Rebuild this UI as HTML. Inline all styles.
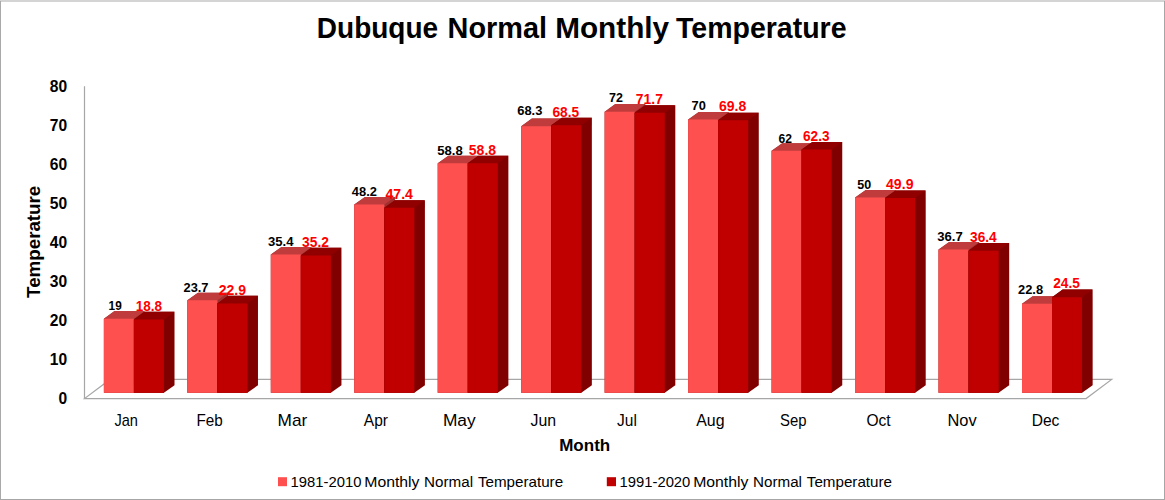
<!DOCTYPE html>
<html><head><meta charset="utf-8"><style>html,body{margin:0;padding:0;background:#fff;width:1165px;height:500px;overflow:hidden}</style></head>
<body><svg width="1165" height="500" viewBox="0 0 1165 500" style="display:block;font-family:'Liberation Sans',sans-serif">
<rect x="0" y="0" width="1165" height="500" fill="#fff"/>
<polygon points="84.50,398.60 1086.10,398.60 1111.70,379.40 110.10,379.40" fill="none" stroke="#A6A6A6" stroke-width="1.2"/>
<line x1="84.5" y1="86.2" x2="84.5" y2="398.6" stroke="#A6A6A6" stroke-width="1.2"/>
<polygon points="103.91,318.65 114.51,311.05 144.51,311.05 144.51,385.24 133.91,392.84 103.91,392.84" fill="#A03030"/>
<polygon points="103.91,318.65 114.51,311.05 144.51,311.05 133.91,318.65 133.91,392.84 103.91,392.84" fill="#C03C3C"/>
<polygon points="103.91,318.65 133.91,318.65 133.91,392.84 103.91,392.84" fill="#FF5050"/>
<polygon points="133.91,319.43 144.51,311.83 174.51,311.83 174.51,385.24 163.91,392.84 133.91,392.84" fill="#800000"/>
<polygon points="133.91,319.43 144.51,311.83 174.51,311.83 163.91,319.43 163.91,392.84 133.91,392.84" fill="#900000"/>
<polygon points="133.91,319.43 163.91,319.43 163.91,392.84 133.91,392.84" fill="#C00000"/>
<polygon points="187.38,300.29 197.98,292.69 227.98,292.69 227.98,385.24 217.38,392.84 187.38,392.84" fill="#A03030"/>
<polygon points="187.38,300.29 197.98,292.69 227.98,292.69 217.38,300.29 217.38,392.84 187.38,392.84" fill="#C03C3C"/>
<polygon points="187.38,300.29 217.38,300.29 217.38,392.84 187.38,392.84" fill="#FF5050"/>
<polygon points="217.38,303.42 227.98,295.82 257.98,295.82 257.98,385.24 247.38,392.84 217.38,392.84" fill="#800000"/>
<polygon points="217.38,303.42 227.98,295.82 257.98,295.82 247.38,303.42 247.38,392.84 217.38,392.84" fill="#900000"/>
<polygon points="217.38,303.42 247.38,303.42 247.38,392.84 217.38,392.84" fill="#C00000"/>
<polygon points="270.85,254.60 281.45,247.00 311.45,247.00 311.45,385.24 300.85,392.84 270.85,392.84" fill="#A03030"/>
<polygon points="270.85,254.60 281.45,247.00 311.45,247.00 300.85,254.60 300.85,392.84 270.85,392.84" fill="#C03C3C"/>
<polygon points="270.85,254.60 300.85,254.60 300.85,392.84 270.85,392.84" fill="#FF5050"/>
<polygon points="300.85,255.38 311.45,247.78 341.45,247.78 341.45,385.24 330.85,392.84 300.85,392.84" fill="#800000"/>
<polygon points="300.85,255.38 311.45,247.78 341.45,247.78 330.85,255.38 330.85,392.84 300.85,392.84" fill="#900000"/>
<polygon points="300.85,255.38 330.85,255.38 330.85,392.84 300.85,392.84" fill="#C00000"/>
<polygon points="354.31,204.62 364.91,197.02 394.91,197.02 394.91,385.24 384.31,392.84 354.31,392.84" fill="#A03030"/>
<polygon points="354.31,204.62 364.91,197.02 394.91,197.02 384.31,204.62 384.31,392.84 354.31,392.84" fill="#C03C3C"/>
<polygon points="354.31,204.62 384.31,204.62 384.31,392.84 354.31,392.84" fill="#FF5050"/>
<polygon points="384.31,207.74 394.91,200.14 424.91,200.14 424.91,385.24 414.31,392.84 384.31,392.84" fill="#800000"/>
<polygon points="384.31,207.74 394.91,200.14 424.91,200.14 414.31,207.74 414.31,392.84 384.31,392.84" fill="#900000"/>
<polygon points="384.31,207.74 414.31,207.74 414.31,392.84 384.31,392.84" fill="#C00000"/>
<polygon points="437.78,163.23 448.38,155.63 478.38,155.63 478.38,385.24 467.78,392.84 437.78,392.84" fill="#A03030"/>
<polygon points="437.78,163.23 448.38,155.63 478.38,155.63 467.78,163.23 467.78,392.84 437.78,392.84" fill="#C03C3C"/>
<polygon points="437.78,163.23 467.78,163.23 467.78,392.84 437.78,392.84" fill="#FF5050"/>
<polygon points="467.78,163.23 478.38,155.63 508.38,155.63 508.38,385.24 497.78,392.84 467.78,392.84" fill="#800000"/>
<polygon points="467.78,163.23 478.38,155.63 508.38,155.63 497.78,163.23 497.78,392.84 467.78,392.84" fill="#900000"/>
<polygon points="467.78,163.23 497.78,163.23 497.78,392.84 467.78,392.84" fill="#C00000"/>
<polygon points="521.25,126.13 531.85,118.53 561.85,118.53 561.85,385.24 551.25,392.84 521.25,392.84" fill="#A03030"/>
<polygon points="521.25,126.13 531.85,118.53 561.85,118.53 551.25,126.13 551.25,392.84 521.25,392.84" fill="#C03C3C"/>
<polygon points="521.25,126.13 551.25,126.13 551.25,392.84 521.25,392.84" fill="#FF5050"/>
<polygon points="551.25,125.35 561.85,117.75 591.85,117.75 591.85,385.24 581.25,392.84 551.25,392.84" fill="#800000"/>
<polygon points="551.25,125.35 561.85,117.75 591.85,117.75 581.25,125.35 581.25,392.84 551.25,392.84" fill="#900000"/>
<polygon points="551.25,125.35 581.25,125.35 581.25,392.84 551.25,392.84" fill="#C00000"/>
<polygon points="604.71,111.68 615.31,104.08 645.31,104.08 645.31,385.24 634.71,392.84 604.71,392.84" fill="#A03030"/>
<polygon points="604.71,111.68 615.31,104.08 645.31,104.08 634.71,111.68 634.71,392.84 604.71,392.84" fill="#C03C3C"/>
<polygon points="604.71,111.68 634.71,111.68 634.71,392.84 604.71,392.84" fill="#FF5050"/>
<polygon points="634.71,112.85 645.31,105.25 675.31,105.25 675.31,385.24 664.71,392.84 634.71,392.84" fill="#800000"/>
<polygon points="634.71,112.85 645.31,105.25 675.31,105.25 664.71,112.85 664.71,392.84 634.71,392.84" fill="#900000"/>
<polygon points="634.71,112.85 664.71,112.85 664.71,392.84 634.71,392.84" fill="#C00000"/>
<polygon points="688.18,119.49 698.78,111.89 728.78,111.89 728.78,385.24 718.18,392.84 688.18,392.84" fill="#A03030"/>
<polygon points="688.18,119.49 698.78,111.89 728.78,111.89 718.18,119.49 718.18,392.84 688.18,392.84" fill="#C03C3C"/>
<polygon points="688.18,119.49 718.18,119.49 718.18,392.84 688.18,392.84" fill="#FF5050"/>
<polygon points="718.18,120.27 728.78,112.67 758.78,112.67 758.78,385.24 748.18,392.84 718.18,392.84" fill="#800000"/>
<polygon points="718.18,120.27 728.78,112.67 758.78,112.67 748.18,120.27 748.18,392.84 718.18,392.84" fill="#900000"/>
<polygon points="718.18,120.27 748.18,120.27 748.18,392.84 718.18,392.84" fill="#C00000"/>
<polygon points="771.65,150.73 782.25,143.13 812.25,143.13 812.25,385.24 801.65,392.84 771.65,392.84" fill="#A03030"/>
<polygon points="771.65,150.73 782.25,143.13 812.25,143.13 801.65,150.73 801.65,392.84 771.65,392.84" fill="#C03C3C"/>
<polygon points="771.65,150.73 801.65,150.73 801.65,392.84 771.65,392.84" fill="#FF5050"/>
<polygon points="801.65,149.56 812.25,141.96 842.25,141.96 842.25,385.24 831.65,392.84 801.65,392.84" fill="#800000"/>
<polygon points="801.65,149.56 812.25,141.96 842.25,141.96 831.65,149.56 831.65,392.84 801.65,392.84" fill="#900000"/>
<polygon points="801.65,149.56 831.65,149.56 831.65,392.84 801.65,392.84" fill="#C00000"/>
<polygon points="855.11,197.59 865.71,189.99 895.71,189.99 895.71,385.24 885.11,392.84 855.11,392.84" fill="#A03030"/>
<polygon points="855.11,197.59 865.71,189.99 895.71,189.99 885.11,197.59 885.11,392.84 855.11,392.84" fill="#C03C3C"/>
<polygon points="855.11,197.59 885.11,197.59 885.11,392.84 855.11,392.84" fill="#FF5050"/>
<polygon points="885.11,197.98 895.71,190.38 925.71,190.38 925.71,385.24 915.11,392.84 885.11,392.84" fill="#800000"/>
<polygon points="885.11,197.98 895.71,190.38 925.71,190.38 915.11,197.98 915.11,392.84 885.11,392.84" fill="#900000"/>
<polygon points="885.11,197.98 915.11,197.98 915.11,392.84 885.11,392.84" fill="#C00000"/>
<polygon points="938.58,249.53 949.18,241.93 979.18,241.93 979.18,385.24 968.58,392.84 938.58,392.84" fill="#A03030"/>
<polygon points="938.58,249.53 949.18,241.93 979.18,241.93 968.58,249.53 968.58,392.84 938.58,392.84" fill="#C03C3C"/>
<polygon points="938.58,249.53 968.58,249.53 968.58,392.84 938.58,392.84" fill="#FF5050"/>
<polygon points="968.58,250.70 979.18,243.10 1009.18,243.10 1009.18,385.24 998.58,392.84 968.58,392.84" fill="#800000"/>
<polygon points="968.58,250.70 979.18,243.10 1009.18,243.10 998.58,250.70 998.58,392.84 968.58,392.84" fill="#900000"/>
<polygon points="968.58,250.70 998.58,250.70 998.58,392.84 968.58,392.84" fill="#C00000"/>
<polygon points="1022.05,303.81 1032.65,296.21 1062.65,296.21 1062.65,385.24 1052.05,392.84 1022.05,392.84" fill="#A03030"/>
<polygon points="1022.05,303.81 1032.65,296.21 1062.65,296.21 1052.05,303.81 1052.05,392.84 1022.05,392.84" fill="#C03C3C"/>
<polygon points="1022.05,303.81 1052.05,303.81 1052.05,392.84 1022.05,392.84" fill="#FF5050"/>
<polygon points="1052.05,297.17 1062.65,289.57 1092.65,289.57 1092.65,385.24 1082.05,392.84 1052.05,392.84" fill="#800000"/>
<polygon points="1052.05,297.17 1062.65,289.57 1092.65,289.57 1082.05,297.17 1082.05,392.84 1052.05,392.84" fill="#900000"/>
<polygon points="1052.05,297.17 1082.05,297.17 1082.05,392.84 1052.05,392.84" fill="#C00000"/>
<rect x="278" y="477.2" width="9" height="9" fill="#FF5050"/>
<rect x="606.8" y="477.2" width="9.2" height="9" fill="#C00000"/>
<g font-family="'Liberation Sans', sans-serif">
<text transform="translate(316.83 38.00) scale(0.9653 1)" font-weight="bold" font-size="29.0" fill="#000">Dubuque</text>
<text transform="translate(447.60 38.00) scale(0.9953 1)" font-weight="bold" font-size="29.0" fill="#000">Normal</text>
<text transform="translate(555.17 38.00) scale(1.0253 1)" font-weight="bold" font-size="29.0" fill="#000">Monthly</text>
<text transform="translate(676.00 38.00) scale(0.9828 1)" font-weight="bold" font-size="29.0" fill="#000">Temperature</text>
<text transform="translate(559.18 450.75) scale(1.0196 1)" font-weight="bold" font-size="16.7" fill="#000">Month</text>
<text transform="translate(290.60 486.50) scale(1.0024 1)" font-weight="normal" font-size="14.8" fill="#000">1981-2010</text>
<text transform="translate(364.23 486.50) scale(1.0678 1)" font-weight="normal" font-size="14.8" fill="#000">Monthly</text>
<text transform="translate(424.07 486.50) scale(1.0281 1)" font-weight="normal" font-size="14.8" fill="#000">Normal</text>
<text transform="translate(477.90 486.50) scale(1.0261 1)" font-weight="normal" font-size="14.8" fill="#000">Temperature</text>
<text transform="translate(619.50 486.50) scale(1.0024 1)" font-weight="normal" font-size="14.8" fill="#000">1991-2020</text>
<text transform="translate(693.13 486.50) scale(1.0678 1)" font-weight="normal" font-size="14.8" fill="#000">Monthly</text>
<text transform="translate(752.97 486.50) scale(1.0281 1)" font-weight="normal" font-size="14.8" fill="#000">Normal</text>
<text transform="translate(806.80 486.50) scale(1.0261 1)" font-weight="normal" font-size="14.8" fill="#000">Temperature</text>
<text x="58.50" y="404.05" font-weight="bold" font-size="15.6">0</text>
<text x="49.83" y="365.00" font-weight="bold" font-size="15.6">10</text>
<text x="49.83" y="325.95" font-weight="bold" font-size="15.6">20</text>
<text x="49.83" y="286.90" font-weight="bold" font-size="15.6">30</text>
<text x="49.83" y="247.85" font-weight="bold" font-size="15.6">40</text>
<text x="49.83" y="208.80" font-weight="bold" font-size="15.6">50</text>
<text x="49.83" y="169.75" font-weight="bold" font-size="15.6">60</text>
<text x="49.83" y="130.70" font-weight="bold" font-size="15.6">70</text>
<text x="49.83" y="91.65" font-weight="bold" font-size="15.6">80</text>
<text transform="translate(114.40 426.40) scale(0.9117 1)" font-weight="normal" font-size="16" fill="#000">Jan</text>
<text transform="translate(196.55 426.40) scale(0.9523 1)" font-weight="normal" font-size="16" fill="#000">Feb</text>
<text transform="translate(277.62 426.40) scale(1.0798 1)" font-weight="normal" font-size="16" fill="#000">Mar</text>
<text transform="translate(363.80 426.40) scale(0.9699 1)" font-weight="normal" font-size="16" fill="#000">Apr</text>
<text transform="translate(442.92 426.40) scale(1.0846 1)" font-weight="normal" font-size="16" fill="#000">May</text>
<text transform="translate(530.60 426.40) scale(0.9920 1)" font-weight="normal" font-size="16" fill="#000">Jun</text>
<text transform="translate(617.00 426.40) scale(0.9699 1)" font-weight="normal" font-size="16" fill="#000">Jul</text>
<text transform="translate(696.20 426.40) scale(0.9938 1)" font-weight="normal" font-size="16" fill="#000">Aug</text>
<text transform="translate(780.00 426.40) scale(0.9310 1)" font-weight="normal" font-size="16" fill="#000">Sep</text>
<text transform="translate(866.50 426.40) scale(0.9707 1)" font-weight="normal" font-size="16" fill="#000">Oct</text>
<text transform="translate(947.47 426.40) scale(1.0272 1)" font-weight="normal" font-size="16" fill="#000">Nov</text>
<text transform="translate(1031.73 426.40) scale(0.9726 1)" font-weight="normal" font-size="16" fill="#000">Dec</text>
<text transform="translate(108.60 310.00) scale(0.9502 1)" font-weight="bold" font-size="12.4" fill="#000">19</text>
<text transform="translate(183.50 291.60) scale(1.0361 1)" font-weight="bold" font-size="12.4" fill="#000">23.7</text>
<text transform="translate(268.00 246.00) scale(1.0568 1)" font-weight="bold" font-size="12.4" fill="#000">35.4</text>
<text transform="translate(351.80 196.40) scale(1.0403 1)" font-weight="bold" font-size="12.4" fill="#000">48.2</text>
<text transform="translate(437.20 154.60) scale(1.0568 1)" font-weight="bold" font-size="12.4" fill="#000">58.8</text>
<text transform="translate(517.25 114.90) scale(1.0423 1)" font-weight="bold" font-size="12.4" fill="#000">68.3</text>
<text transform="translate(609.00 101.60) scale(1.0078 1)" font-weight="bold" font-size="12.4" fill="#000">72</text>
<text transform="translate(691.60 110.20) scale(1.0366 1)" font-weight="bold" font-size="12.4" fill="#000">70</text>
<text transform="translate(778.60 142.60) scale(0.9790 1)" font-weight="bold" font-size="12.4" fill="#000">62</text>
<text transform="translate(857.20 188.80) scale(1.0078 1)" font-weight="bold" font-size="12.4" fill="#000">50</text>
<text transform="translate(937.20 240.60) scale(1.0568 1)" font-weight="bold" font-size="12.4" fill="#000">36.7</text>
<text transform="translate(1018.00 293.80) scale(1.0403 1)" font-weight="bold" font-size="12.4" fill="#000">22.8</text>
<text transform="translate(135.80 310.80) scale(0.9471 1)" font-weight="bold" font-size="14.3" fill="#FF0000">18.8</text>
<text transform="translate(218.70 294.70) scale(0.9830 1)" font-weight="bold" font-size="14.3" fill="#FF0000">22.9</text>
<text transform="translate(302.00 246.80) scale(0.9686 1)" font-weight="bold" font-size="14.3" fill="#FF0000">35.2</text>
<text transform="translate(385.40 198.80) scale(0.9901 1)" font-weight="bold" font-size="14.3" fill="#FF0000">47.4</text>
<text transform="translate(468.80 154.60) scale(0.9830 1)" font-weight="bold" font-size="14.3" fill="#FF0000">58.8</text>
<text transform="translate(552.40 116.80) scale(0.9614 1)" font-weight="bold" font-size="14.3" fill="#FF0000">68.5</text>
<text transform="translate(635.80 103.80) scale(0.9758 1)" font-weight="bold" font-size="14.3" fill="#FF0000">71.7</text>
<text transform="translate(719.00 111.40) scale(0.9830 1)" font-weight="bold" font-size="14.3" fill="#FF0000">69.8</text>
<text transform="translate(803.00 141.00) scale(0.9543 1)" font-weight="bold" font-size="14.3" fill="#FF0000">62.3</text>
<text transform="translate(886.00 189.40) scale(0.9901 1)" font-weight="bold" font-size="14.3" fill="#FF0000">49.9</text>
<text transform="translate(970.00 242.00) scale(0.9614 1)" font-weight="bold" font-size="14.3" fill="#FF0000">36.4</text>
<text transform="translate(1053.20 288.20) scale(0.9614 1)" font-weight="bold" font-size="14.3" fill="#FF0000">24.5</text>
<text transform="translate(40.1 297.90) rotate(-90) scale(0.9771 1)" font-weight="bold" font-size="19.2">Temperature</text>
</g>
<rect x="0" y="0" width="1165" height="2" fill="#D4D4D4"/>
<rect x="0" y="1" width="1" height="499" fill="#A9A9A9"/>
<rect x="1164" y="1" width="1" height="499" fill="#A6A6A6"/>
<rect x="0" y="499" width="1165" height="1" fill="#A6A6A6"/>
</svg></body></html>
